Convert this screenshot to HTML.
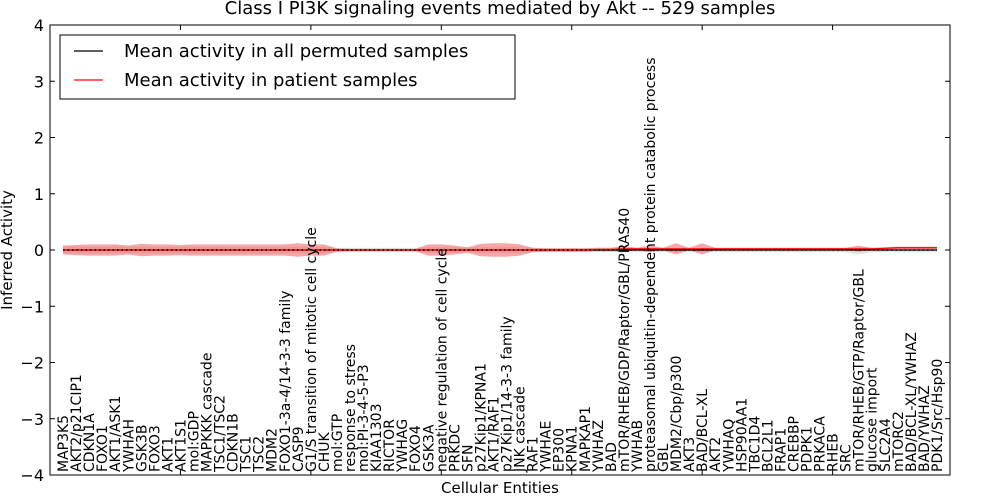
<!DOCTYPE html>
<html><head><meta charset="utf-8"><style>
html,body{margin:0;padding:0;background:#fff;}
svg{display:block;font-family:"DejaVu Sans","Liberation Sans",sans-serif;}
</style></head><body>
<svg id="chart" width="1000" height="500" viewBox="0 0 1000 500">
<text x="500" y="14" text-anchor="middle" font-size="18">Class I PI3K signaling events mediated by Akt -- 529 samples</text>
<g id="plot"></g>
<rect x="50" y="25" width="900" height="450" fill="none" stroke="#000" stroke-width="1"/>
<text transform="translate(12,250) rotate(-90)" text-anchor="middle" font-size="15">Inferred Activity</text>
<text x="500" y="493" text-anchor="middle" font-size="15">Cellular Entities</text>
<g>
<rect x="60" y="35" width="455" height="64" fill="#fff" stroke="#000" stroke-width="1"/>
<line x1="74" y1="51" x2="103" y2="51" stroke="#000" stroke-width="1.2"/>
<text x="124" y="57" font-size="18">Mean activity in all permuted samples</text>
<line x1="74" y1="80" x2="103" y2="80" stroke="#f00" stroke-width="1.2"/>
<text x="124" y="86" font-size="18">Mean activity in patient samples</text>
</g>
</svg>
<script>
const labels=["MAP3K5","AKT2/p21CIP1","CDKN1A","FOXO1","AKT1/ASK1","YWHAH","GSK3B","FOXO3","AKT1","AKT1S1","mol:GDP","MAPKKK cascade","TSC1/TSC2","CDKN1B","TSC1","TSC2","MDM2","FOXO1-3a-4/14-3-3 family","CASP9","G1/S transition of mitotic cell cycle","CHUK","mol:GTP","response to stress","mol:PI-3-4-5-P3","KIAA1303","RICTOR","YWHAG","FOXO4","GSK3A","negative regulation of cell cycle","PRKDC","SFN","p27Kip1/KPNA1","AKT1/RAF1","p27Kip1/14-3-3 family","JNK cascade","RAF1","YWHAE","EP300","KPNA1","MAPKAP1","YWHAZ","BAD","mTOR/RHEB/GDP/Raptor/GBL/PRAS40","YWHAB","proteasomal ubiquitin-dependent protein catabolic process","GBL","MDM2/Cbp/p300","AKT3","BAD/BCL-XL","AKT2","YWHAQ","HSP90AA1","TBC1D4","BCL2L1","FRAP1","CREBBP","PDPK1","PRKACA","RHEB","SRC","mTOR/RHEB/GTP/Raptor/GBL","glucose import","SLC2A4","mTORC2","BAD/BCL-XL/YWHAZ","BAD/YWHAZ","PDK1/Src/Hsp90"];
const redMean=[0,0,0,0,0,0,0,0,0,0,0,0,0,0,0,0,0,0,0,0,0,0,0,0,0,0,0,0,0,0,0,0,0,0,0,0,0,0,0,0,0,0.01,0.01,0.02,0.02,0.02,0.02,0.02,0.02,0.02,0.02,0.02,0.02,0.02,0.02,0.02,0.02,0.02,0.02,0.02,0.02,0.02,0.02,0.03,0.04,0.04,0.04,0.04];
const redStd=[0.08,0.09,0.1,0.1,0.1,0.08,0.11,0.1,0.1,0.09,0.1,0.1,0.1,0.1,0.1,0.1,0.1,0.1,0.12,0.1,0.1,0.03,0.02,0.02,0.02,0.02,0.02,0.02,0.1,0.1,0.08,0.05,0.11,0.12,0.12,0.1,0.04,0.03,0.03,0.03,0.03,0.03,0.03,0.05,0.02,0.06,0.02,0.1,0.02,0.1,0.02,0.02,0.02,0.02,0.02,0.02,0.02,0.02,0.02,0.02,0.02,0.05,0.02,0.02,0.02,0.02,0.02,0.02];
const greyStd=[0.06,0.06,0.06,0.06,0.06,0.06,0.06,0.06,0.06,0.06,0.06,0.06,0.06,0.06,0.06,0.06,0.06,0.06,0.06,0.06,0.06,0.04,0.04,0.04,0.04,0.04,0.04,0.04,0.05,0.05,0.05,0.04,0.05,0.05,0.05,0.05,0.04,0.04,0.04,0.04,0.04,0.04,0.04,0.04,0.04,0.04,0.04,0.04,0.04,0.04,0.04,0.04,0.04,0.04,0.04,0.04,0.04,0.04,0.04,0.04,0.04,0.08,0.04,0.04,0.04,0.04,0.04,0.04];
const yTicks=[4,3,2,1,0,-1,-2,-3,-4];
const xTicks=[0,10,20,30,40,50,60];
const NS="http://www.w3.org/2000/svg";
const X0=50,X1=950,Y0=25,Y1=475,XMAX=69,YMIN=-4,YMAX=4;
function xs(v){return X0+(v/XMAX)*(X1-X0);}
function ys(v){return Y0+(YMAX-v)/(YMAX-YMIN)*(Y1-Y0);}
const g=document.getElementById('plot');
function mk(t,a){const e=document.createElementNS(NS,t);for(const k in a)e.setAttribute(k,a[k]);g.appendChild(e);return e;}
function band(mean,std,fill,name){
  let up=[],dn=[];
  for(let i=0;i<labels.length;i++){up.push(xs(i+1)+','+ys(mean[i]+std[i]));dn.unshift(xs(i+1)+','+ys(mean[i]-std[i]));}
  const p=mk('polygon',{points:up.concat(dn).join(' '),fill:fill,stroke:'none'});
  
  
}
const zeros=labels.map(()=>0);
band(zeros,greyStd,'rgba(190,190,190,0.45)','permuted-band');
band(redMean,redStd,'rgba(240,80,80,0.5)','patient-band');
let pts=labels.map((l,i)=>xs(i+1)+','+ys(0)).join(' ');
const bl=mk('polyline',{points:pts,fill:'none',stroke:'#000','stroke-width':1.2});


pts=labels.map((l,i)=>xs(i+1)+','+ys(redMean[i])).join(' ');
const rl=mk('polyline',{points:pts,fill:'none',stroke:'#f00','stroke-width':1.2});


pts=labels.map((l,i)=>xs(i+1)+','+ys(0)).join(' ');
const dl=mk('polyline',{points:pts,fill:'none',stroke:'#000','stroke-width':1.5,'stroke-dasharray':'1.5,3'});


yTicks.forEach(v=>{
  const y=ys(v);
  const t1=mk('line',{x1:X0,y1:y,x2:X0+5,y2:y,stroke:'#000'});
  
  
  const t2=mk('line',{x1:X1-5,y1:y,x2:X1,y2:y,stroke:'#000'});
  
  
  const tx=mk('text',{x:X0-6,y:y+6,'text-anchor':'end','font-size':16});
  tx.textContent=v<0?'\u2212'+Math.abs(v):String(v);
  
  
});
xTicks.forEach(v=>{
  const x=xs(v);
  const a=mk('line',{x1:x,y1:Y0,x2:x,y2:Y0+5,stroke:'#000'});
  
  
  const b=mk('line',{x1:x,y1:Y1-5,x2:x,y2:Y1,stroke:'#000'});
  
  
});
labels.forEach((l,i)=>{
  const x=xs(i+1)+5;
  const t=mk('text',{transform:'translate('+x+',472) rotate(-90)','font-size':14});
  t.textContent=l;
  
  
});
</script>
</body></html>
